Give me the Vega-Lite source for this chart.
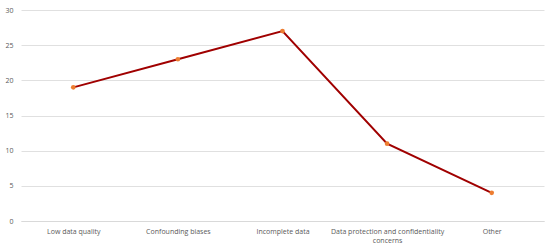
{
  "$schema": "https://vega.github.io/schema/vega-lite/v6.json",
  "autosize": "none",
  "width": 523,
  "height": 211,
  "padding": {"left": 21, "top": 10, "right": 6, "bottom": 27},
  "background": "white",
  "config": {"view": {"stroke": null}, "font": "Open Sans"},
  "data": {"values": [
    {"category": "Low data quality", "value": 19},
    {"category": "Confounding biases", "value": 23},
    {"category": "Incomplete data", "value": 27},
    {"category": "Data protection and confidentiality concerns", "value": 11},
    {"category": "Other", "value": 4}
  ]},
  "encoding": {
    "x": {"field": "category", "type": "nominal", "sort": null,
      "scale": {"type": "point", "padding": 0.5},
      "axis": {"title": null, "labelAngle": 0, "labelFontSize": 7, "labelColor": "#595959",
        "ticks": false, "domainColor": "#d9d9d9", "labelPadding": 6,
        "labelExpr": "datum.label == 'Data protection and confidentiality concerns' ? ['Data protection and confidentiality', 'concerns'] : datum.label"}},
    "y": {"field": "value", "type": "quantitative",
      "scale": {"domain": [0, 30]},
      "axis": {"title": null, "values": [0, 5, 10, 15, 20, 25, 30], "labelFontSize": 7, "labelColor": "#595959",
        "ticks": false, "domain": false, "gridColor": "#e0e0e0", "labelPadding": 8}}
  },
  "layer": [
    {"mark": {"type": "line", "color": "#a00000", "strokeWidth": 2}},
    {"mark": {"type": "point", "filled": true, "color": "#ed7d31", "size": 22, "opacity": 1}}
  ]
}
